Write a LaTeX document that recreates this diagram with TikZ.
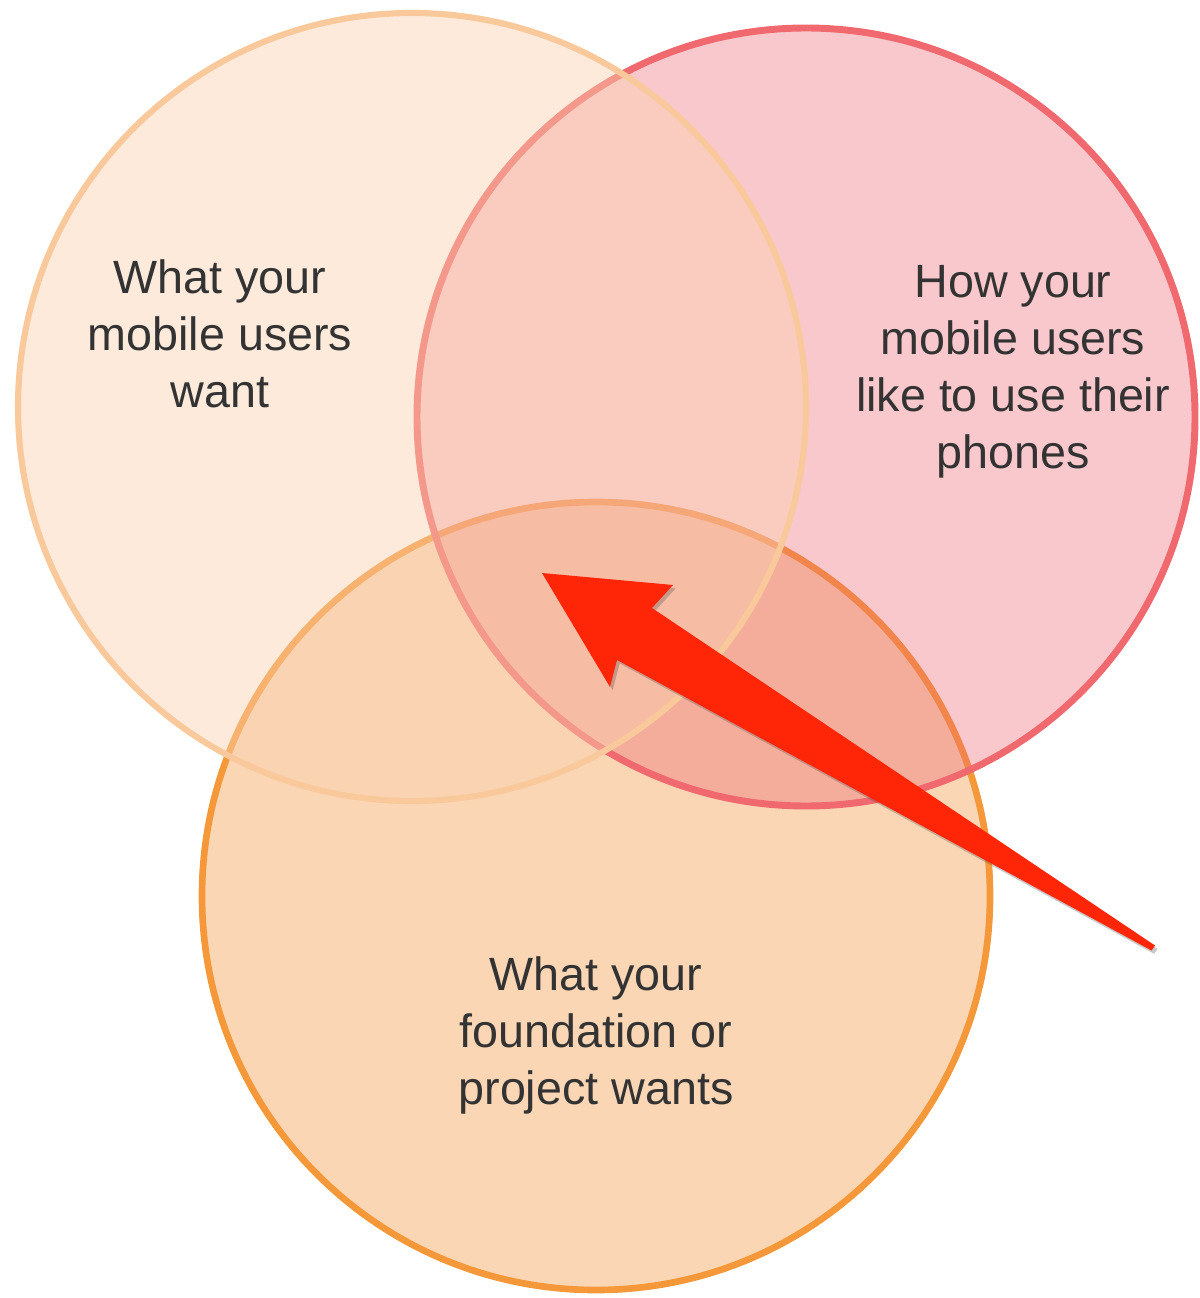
\documentclass[tikz,border=0pt]{standalone}
\usepackage{fontspec}
\setmainfont{Liberation Sans}
\usetikzlibrary{shadows}
\definecolor{lfill}{RGB}{251,210,176}
\definecolor{rfill}{RGB}{238,98,109}
\definecolor{bfill}{RGB}{250,214,180}
\definecolor{lline}{RGB}{249,201,156}
\definecolor{rline}{RGB}{239,105,110}
\definecolor{bline}{RGB}{245,152,58}
\definecolor{arrowred}{RGB}{255,38,8}
\definecolor{txt}{HTML}{333333}
\tikzset{
  venntext/.style={align=center, text=txt, font=\fontsize{35}{42.75}\selectfont, inner sep=0pt},
}
\begin{document}
\begin{tikzpicture}[x=0.75pt,y=-0.75pt]
\useasboundingbox (0,0) rectangle (1199,1298);
\fill[white] (0,0) rectangle (1199,1298);
% bottom circle (lowest layer)
\fill[bfill] (596,896) circle (394);
\draw[bline, line width=5pt] (596,896) circle (394);
% right circle
\fill[rfill, fill opacity=0.35] (806,417) circle (389);
\draw[rline, line width=5.2pt] (806,417) circle (389);
% left circle (top layer)
\fill[lfill, fill opacity=0.45] (412,407) circle (394);
\draw[lline, line width=4.6pt] (412,407) circle (394);
% texts
\node[venntext] (ltext) at (220,334) {What your\\mobile users\\want};
\node[venntext] (rtext) at (1013,372) {How your\\mobile users\\like to use their\\phones};
\node[venntext] (btext) at (596,1035) {What your\\foundation or\\project wants};
% arrow
\coordinate (tip) at (542,573);
\coordinate (barbA) at (673,585);
\coordinate (notchA) at (652,608);
\coordinate (tailA) at (1155,945.5);
\coordinate (tailB) at (1151.5,950.5);
\coordinate (notchB) at (617,660);
\coordinate (barbB) at (610,687);
\fill[arrowred, line join=round,
  drop shadow={shadow xshift=2pt, shadow yshift=-2.5pt, opacity=0.3, fill=black!70}]
  (tip) -- (barbA) -- (notchA) -- (tailA) -- (tailB) -- (notchB) -- (barbB) -- cycle;
\end{tikzpicture}
\end{document}
